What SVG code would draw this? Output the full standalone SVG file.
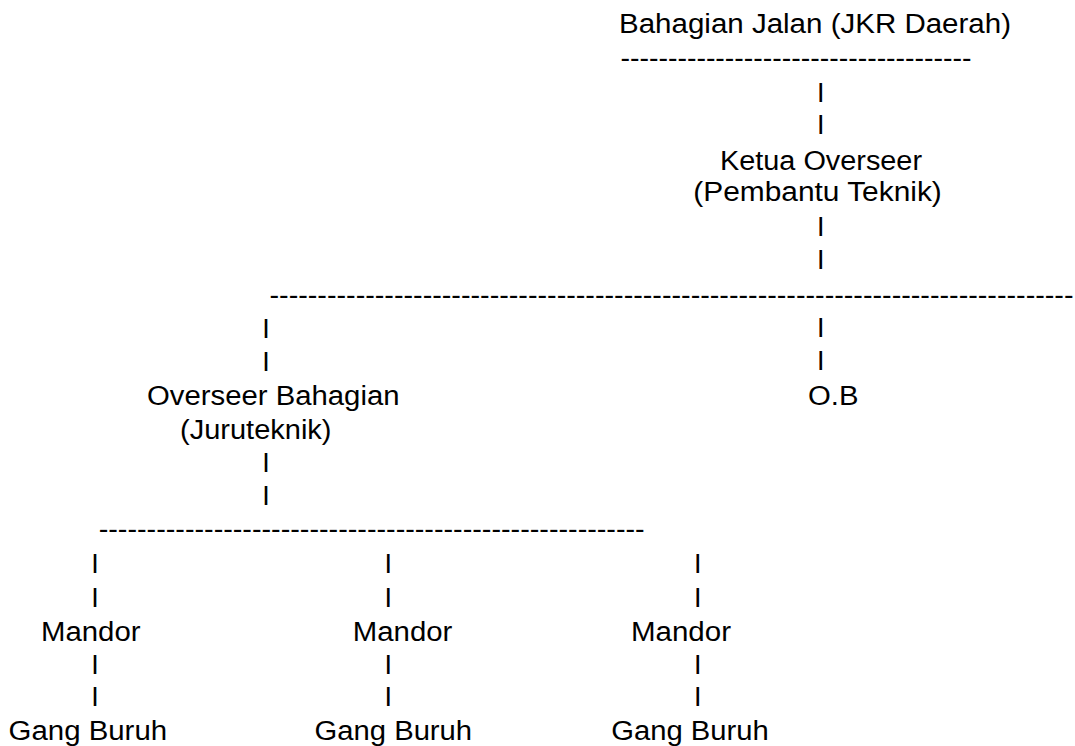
<svg xmlns="http://www.w3.org/2000/svg" width="1075" height="746" viewBox="0 0 1075 746">
<style>
text{font-family:"Liberation Sans",Arial,sans-serif;font-size:27px;fill:#000}
.bar{text-anchor:middle}
</style>
<rect width="1075" height="746" fill="#fff"/>
<g id="connectors">
<text x="620.5" y="67" textLength="351" lengthAdjust="spacingAndGlyphs">-------------------------------------</text>
<text x="269.5" y="303.5" textLength="804" lengthAdjust="spacingAndGlyphs">------------------------------------------------------------------------------------</text>
<text x="98.7" y="537.5" textLength="546" lengthAdjust="spacingAndGlyphs">---------------------------------------------------------</text>
<text class="bar" x="820.7" y="101.5">I</text>
<text class="bar" x="820.7" y="134">I</text>
<text class="bar" x="820.7" y="235.5">I</text>
<text class="bar" x="820.7" y="268.5">I</text>
<text class="bar" x="820.7" y="337">I</text>
<text class="bar" x="820.7" y="370">I</text>
<text class="bar" x="266" y="338">I</text>
<text class="bar" x="266" y="371">I</text>
<text class="bar" x="266" y="472">I</text>
<text class="bar" x="266" y="505">I</text>
<text class="bar" x="95" y="573">I</text>
<text class="bar" x="95" y="607">I</text>
<text class="bar" x="95" y="674">I</text>
<text class="bar" x="95" y="706">I</text>
<text class="bar" x="388.3" y="573">I</text>
<text class="bar" x="388.3" y="607">I</text>
<text class="bar" x="388.3" y="674">I</text>
<text class="bar" x="388.3" y="706">I</text>
<text class="bar" x="697.7" y="573">I</text>
<text class="bar" x="697.7" y="607">I</text>
<text class="bar" x="697.7" y="674">I</text>
<text class="bar" x="697.7" y="706">I</text>
</g>
<g id="bahagian-jalan">
<text x="619" y="33" textLength="392" lengthAdjust="spacingAndGlyphs">Bahagian Jalan (JKR Daerah)</text>
</g>
<g id="ketua-overseer">
<text x="720" y="169.5" textLength="202" lengthAdjust="spacingAndGlyphs">Ketua Overseer</text>
<text x="693.3" y="201" textLength="248.5" lengthAdjust="spacingAndGlyphs">(Pembantu Teknik)</text>
</g>
<g id="overseer-bahagian">
<text x="147" y="404.5" textLength="252.5" lengthAdjust="spacingAndGlyphs">Overseer Bahagian</text>
<text x="180" y="438.5" textLength="151.5" lengthAdjust="spacingAndGlyphs">(Juruteknik)</text>
</g>
<g id="ob">
<text x="808" y="404.5" textLength="50.5" lengthAdjust="spacingAndGlyphs">O.B</text>
</g>
<g id="mandor-1">
<text x="41" y="641" textLength="99.5" lengthAdjust="spacingAndGlyphs">Mandor</text>
</g>
<g id="mandor-2">
<text x="352.8" y="641" textLength="99.5" lengthAdjust="spacingAndGlyphs">Mandor</text>
</g>
<g id="mandor-3">
<text x="631" y="641" textLength="100" lengthAdjust="spacingAndGlyphs">Mandor</text>
</g>
<g id="gang-buruh-1">
<text x="8.6" y="739.5" textLength="158.5" lengthAdjust="spacingAndGlyphs">Gang Buruh</text>
</g>
<g id="gang-buruh-2">
<text x="314.6" y="739.5" textLength="157.5" lengthAdjust="spacingAndGlyphs">Gang Buruh</text>
</g>
<g id="gang-buruh-3">
<text x="611.3" y="739.5" textLength="157.5" lengthAdjust="spacingAndGlyphs">Gang Buruh</text>
</g>
</svg>
